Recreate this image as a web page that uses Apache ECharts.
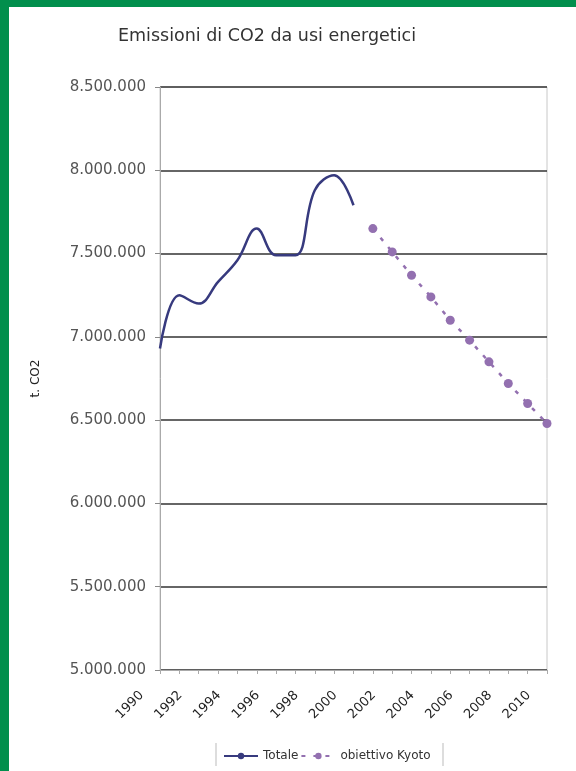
<!DOCTYPE html>
<html>
<head>
<meta charset="utf-8">
<script src="https://cdn.jsdelivr.net/npm/echarts@6/dist/echarts.min.js"></script>
<style>html,body{margin:0;padding:0;background:#fff;}#c{width:576px;height:771px;}</style>
</head>
<body>
<div id="c"></div>
<script>
const years = ['1990','1991','1992','1993','1994','1995','1996','1997','1998','1999','2000','2001','2002','2003','2004','2005','2006','2007','2008','2009','2010'];
const totale = [6930000,7250000,7200000,7330000,7460000,7650000,7490000,7490000,7880000,7970000,7790000,null,null,null,null,null,null,null,null,null,null];
const kyoto = [null,null,null,null,null,null,null,null,null,null,null,7650000,7510000,7370000,7240000,7100000,6980000,6850000,6720000,6600000,6480000];
const yTicks = {min:5000000, max:8500000, step:500000};

const fmt = v => String(v).replace(/\B(?=(\d{3})+(?!\d))/g, '.');
const chart = echarts.init(document.getElementById('c'));
const F = 'DejaVu Sans';
chart.setOption({
  backgroundColor:'#ffffff',
  animation:false,
  title:{text:'Emissioni di CO2 da usi energetici', left:262, textAlign:'center', top:22,
    textStyle:{fontFamily:F, fontSize:17.5, fontWeight:'normal', color:'#333'}},
  grid:{left:160, right:29, top:87, bottom:101, show:true, borderColor:'#c8c8c8', borderWidth:1},
  legend:{left:218, top:745, itemWidth:34, itemHeight:8, itemGap:2,
    textStyle:{fontFamily:F, fontSize:12, color:'#333'},
    data:[{name:'Totale'},{name:'obiettivo Kyoto'}]},
  xAxis:{type:'category', data:years, boundaryGap:false,
    axisLine:{lineStyle:{color:'#aaa'}},
    axisTick:{show:true, interval:0, length:4, lineStyle:{color:'#aaa'}},
    axisLabel:{interval:1, rotate:45, fontFamily:F, fontSize:13, color:'#222', margin:5, padding:[0,26,0,0]},
    splitLine:{show:false}},
  yAxis:{type:'value', min:yTicks.min, max:yTicks.max, interval:yTicks.step,
    name:'t. CO2', nameLocation:'middle', nameGap:118, nameRotate:90,
    nameTextStyle:{fontFamily:F, fontSize:12, color:'#222'},
    axisLine:{show:true, lineStyle:{color:'#aaa'}},
    axisTick:{show:true, length:5, lineStyle:{color:'#888'}},
    axisLabel:{formatter:fmt, fontFamily:F, fontSize:15, color:'#555', margin:14},
    splitLine:{lineStyle:{color:'#333', width:1.5}}},
  series:[
    {name:'Totale', type:'line', data:totale, smooth:0.4, showSymbol:false, symbol:'none',
      lineStyle:{color:'#373a7e', width:2.5}, itemStyle:{color:'#373a7e'}},
    {name:'obiettivo Kyoto', type:'line', data:kyoto, symbol:'circle', symbolSize:9,
      lineStyle:{color:'#9370b0', width:2.5, type:[4,8]}, itemStyle:{color:'#9370b0'}}
  ],
  graphic:[
    {type:'rect', shape:{x:0,y:0,width:576,height:7}, style:{fill:'#018f4d'}, silent:true},
    {type:'rect', shape:{x:0,y:0,width:9,height:771}, style:{fill:'#018f4d'}, silent:true},
    {type:'line', shape:{x1:216,y1:743,x2:216,y2:766}, style:{stroke:'#bbb', lineWidth:1}},
    {type:'line', shape:{x1:443,y1:743,x2:443,y2:766}, style:{stroke:'#bbb', lineWidth:1}}
  ]
});
</script>
</body>
</html>
